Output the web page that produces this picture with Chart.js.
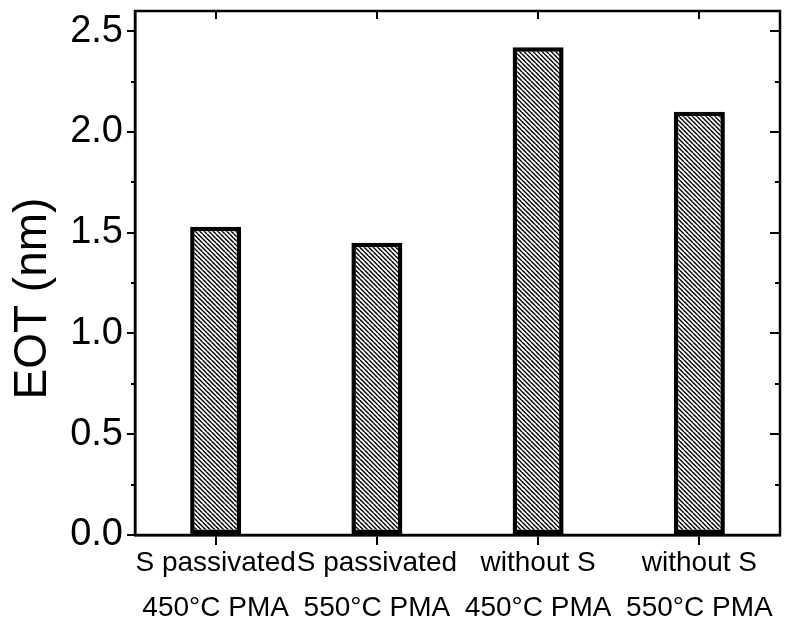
<!DOCTYPE html>
<html>
<head>
<meta charset="utf-8">
<script src="https://cdn.jsdelivr.net/npm/chart.js@4.4.1/dist/chart.umd.min.js"></script>
<style>
    html, body { margin: 0; padding: 0; background: #fff; }
    #wrap { width: 793px; height: 622px; }
</style>
</head>
<body>
<div id="wrap"><canvas id="chart_canvas" width="793" height="622"></canvas></div>
<script>
// sample groups, two lines per label
const categories = [
    ['S passivated', '450°C PMA'],
    ['S passivated', '550°C PMA'],
    ['without S', '450°C PMA'],
    ['without S', '550°C PMA']
];
// equivalent oxide thickness, nm
const eotValues = [1.53, 1.45, 2.42, 2.10];
const yMin = 0;
const yMax = 2.6;
const yStep = 0.5;
const yMinorStep = 0.25;

const FONT = '"Liberation Sans", Arial, sans-serif';

// dense back-slash hatch for the bars
function makeHatch() {
    const size = 9;
    const c = document.createElement('canvas');
    c.width = size;
    c.height = size;
    const g = c.getContext('2d');
    g.fillStyle = '#fff';
    g.fillRect(0, 0, size, size);
    g.strokeStyle = '#000';
    g.lineWidth = 1.4;
    [-9, -4.5, 0, 4.5, 9].forEach(k => {
        g.beginPath();
        g.moveTo(k, 0);
        g.lineTo(k + size, size);
        g.stroke();
    });
    return g.createPattern(c, 'repeat');
}

// box frame plus the ticks Chart.js won't draw (minor, inward on top/right)
const frameTicks = {
    id: 'frameTicks',
    afterDraw(chart) {
        const ctx = chart.ctx;
        const area = chart.chartArea;
        const x = chart.scales.x;
        const y = chart.scales.y;
        ctx.save();
        ctx.strokeStyle = '#000';
        ctx.lineWidth = 2.5;
        ctx.strokeRect(area.left, area.top, area.right - area.left, area.bottom - area.top);

        ctx.lineWidth = 2;
        ctx.beginPath();
        for (let v = yMin; v <= yMax + 1e-9; v += yMinorStep) {
            const py = Math.round(y.getPixelForValue(v));
            const major = Math.abs(v / yStep - Math.round(v / yStep)) < 1e-6;
            if (!major) {
                ctx.moveTo(area.left - 4, py);
                ctx.lineTo(area.left, py);
            }
            ctx.moveTo(area.right, py);
            ctx.lineTo(area.right - (major ? 10 : 5), py);
        }
        categories.forEach((c, i) => {
            const px = Math.round(x.getPixelForValue(i));
            ctx.moveTo(px, area.top);
            ctx.lineTo(px, area.top + 8);
        });
        ctx.stroke();
        ctx.restore();
    }
};

const ctx = document.getElementById('chart_canvas').getContext('2d');
const chart = new Chart(ctx, {
    type: 'bar',
    data: {
        labels: categories,
        datasets: [{
            data: eotValues,
            backgroundColor: makeHatch(),
            borderColor: '#000',
            borderWidth: 4.5,
            borderSkipped: false,
            barPercentage: 0.316,
            categoryPercentage: 1
        }]
    },
    options: {
        responsive: false,
        animation: false,
        layout: { padding: { left: 0, right: 13, top: 11, bottom: 0 } },
        plugins: {
            legend: { display: false },
            tooltip: { enabled: false }
        },
        scales: {
            x: {
                grid: {
                    offset: false,
                    drawOnChartArea: false,
                    drawTicks: true,
                    tickLength: 10,
                    color: '#000',
                    lineWidth: 2
                },
                border: { display: true, color: '#000', width: 2.5 },
                ticks: {
                    color: '#000',
                    autoSkip: false,
                    maxRotation: 0,
                    padding: -4,
                    font: { family: FONT, size: 28, lineHeight: 1.6 }
                },
                afterFit(scale) { scale.height = 87; }
            },
            y: {
                min: yMin,
                max: yMax,
                grid: {
                    drawOnChartArea: false,
                    drawTicks: true,
                    tickLength: 8,
                    color: '#000',
                    lineWidth: 2
                },
                border: { display: true, color: '#000', width: 2.5 },
                ticks: {
                    stepSize: yStep,
                    includeBounds: false,
                    color: '#000',
                    padding: 4,
                    font: { family: FONT, size: 38 },
                    callback: v => Number(v).toFixed(1)
                },
                title: {
                    display: true,
                    text: 'EOT (nm)    ',
                    color: '#000',
                    padding: { top: 6, bottom: 0 },
                    font: { family: FONT, size: 46, lineHeight: 1.2 }
                },
                afterFit(scale) {
                    scale.width = 135;
                    scale.paddingTop = 0;
                    scale.paddingBottom = 0;
                }
            }
        }
    },
    plugins: [frameTicks]
});
</script>
</body>
</html>
